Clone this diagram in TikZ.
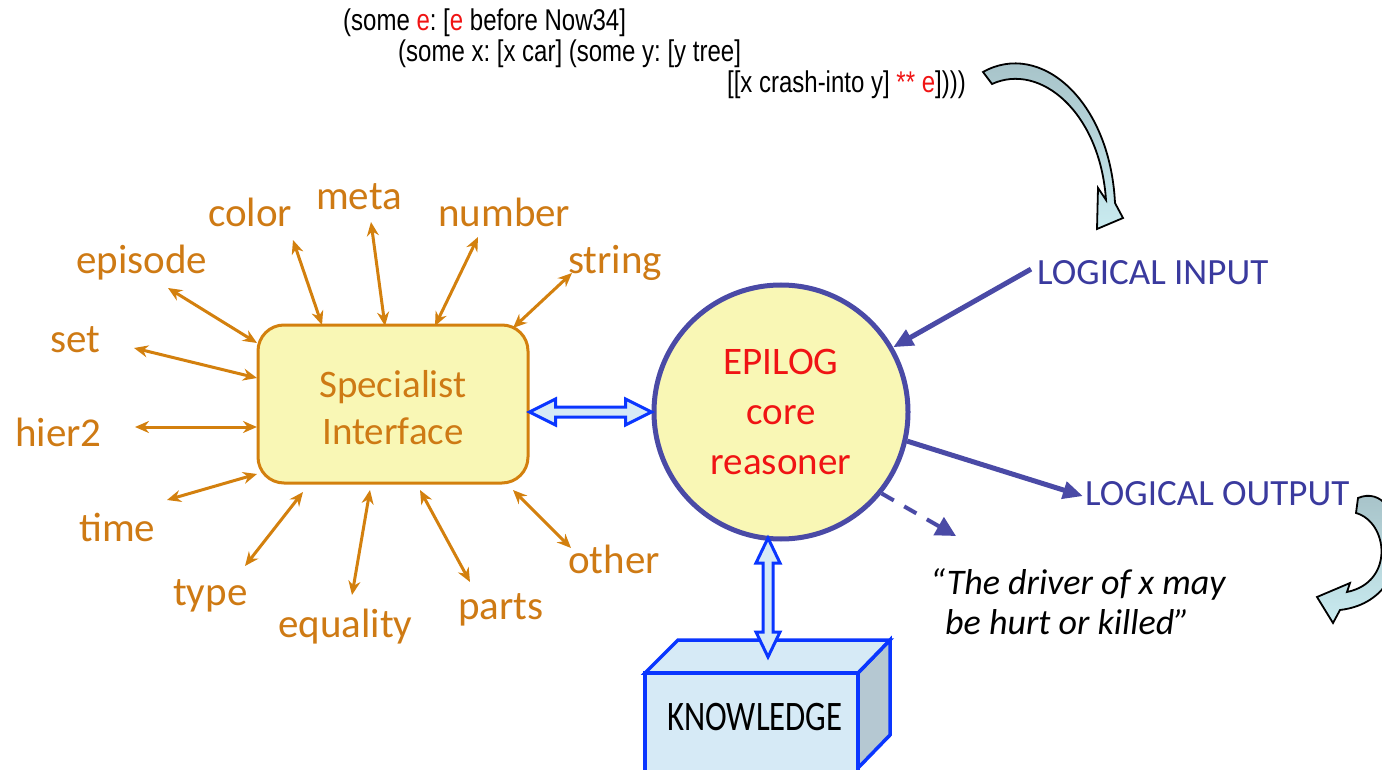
\documentclass[tikz,border=0pt]{standalone}
\usepackage{fontspec}
\setmainfont{Carlito}
\newfontfamily\arialn{Liberation Sans}[FakeStretch=0.8]
\newfontfamily\kfont{Carlito}[FakeStretch=0.78]
\usetikzlibrary{arrows.meta,calc,shapes.geometric}
\definecolor{org}{HTML}{D3800E}
\definecolor{orgtext}{HTML}{CE7A14}
\definecolor{ylw}{HTML}{F9F7B5}
\definecolor{cblue}{HTML}{4A4AA6}
\definecolor{ltxt}{HTML}{3A3A9E}
\definecolor{bblue}{HTML}{0A36FF}
\definecolor{lblue}{HTML}{D6EAF6}
\definecolor{sideg}{HTML}{B5C8D2}
\definecolor{eRed}{HTML}{F01414}
\definecolor{cvA}{HTML}{A3BEC4}
\definecolor{cvB}{HTML}{C9EBF0}
\frenchspacing
\begin{document}
\begin{tikzpicture}[x=1pt,y=-1pt,
  lbl/.style={text=orgtext, font=\fontsize{41}{48}\selectfont, inner sep=0, anchor=base west},
  oarr/.style={draw=org, line width=3pt, {Stealth[length=14pt,width=12pt]}-{Stealth[length=14pt,width=12pt]}},
  barr/.style={draw=cblue, line width=5pt, -{Triangle[length=20pt,width=17pt]}},
  hollow/.style={draw=bblue, fill=lblue, line width=3pt, line join=miter},
  ltext/.style={text=ltxt, font=\fontsize{37}{42}\selectfont, inner sep=0, anchor=base west},
  ftext/.style={font=\arialn\fontsize{30}{31}\selectfont, inner sep=0, anchor=base west},
  curvy/.style={draw=black, line width=1.8pt, top color=cvA, bottom color=cvB}
]
\useasboundingbox (0,0) rectangle (1382,770);
\clip (0,0) rectangle (1382,770);

% formula
\node[ftext] (f1) at (343,31) {(some \textcolor{eRed}{e}: [\textcolor{eRed}{e} before Now34]};
\node[ftext] (f2) at (398,62) {(some x: [x car] (some y: [y tree]};
\node[ftext, anchor=base east] (f3) at (966,93) {[[x crash-into y] \textcolor{eRed}{**} \textcolor{eRed}{e}])))};

% specialist box
\node[draw=org, fill=ylw, line width=3pt, rounded corners=26pt, minimum width=270pt, minimum height=158pt] (box) at (393,404) {};
\node[text=orgtext, align=center, inner sep=0, font=\fontsize{39}{47}\selectfont] (boxtext) at (393,408) {Specialist\\Interface};

% core reasoner
\node[circle, draw=cblue, fill=ylw, line width=5pt, minimum size=254pt, inner sep=0,
      text=eRed, align=center, font=\fontsize{39}{50}\selectfont] (core) at (781,412) {EPILOG\\core\\reasoner};

% labels
\node[lbl] (color) at (208,227) {color};
\node[lbl] (meta) at (316,210) {meta};
\node[lbl] (number) at (438,227) {number};
\node[lbl] (string) at (568,273) {string};
\node[lbl] (episode) at (76,273) {episode};
\node[lbl] (set) at (50,352) {set};
\node[lbl] (hier2) at (15,446) {hier2};
\node[lbl] (time) at (79,541) {time};
\node[lbl] (type) at (173,605) {type};
\node[lbl] (equality) at (278,637) {equality};
\node[lbl] (parts) at (458,619) {parts};
\node[lbl] (other) at (568,573) {other};

% label arrow ends
\coordinate (color-e) at (293,240);   \coordinate (color-b) at (322,325);
\coordinate (meta-e) at (371,222);    \coordinate (meta-b) at (385,326);
\coordinate (number-e) at (478,237);  \coordinate (number-b) at (435,326);
\coordinate (string-e) at (572,273);  \coordinate (string-b) at (513,328);
\coordinate (episode-e) at (168,288); \coordinate (episode-b) at (257,343);
\coordinate (set-e) at (134,348);     \coordinate (set-b) at (257,378);
\coordinate (hier2-e) at (135,427);   \coordinate (hier2-b) at (257,427);
\coordinate (time-e) at (167,500);    \coordinate (time-b) at (257,474);
\coordinate (type-e) at (245,566);    \coordinate (type-b) at (303,492);
\coordinate (equality-e) at (352,595);\coordinate (equality-b) at (370,490);
\coordinate (parts-e) at (470,582);   \coordinate (parts-b) at (420,490);
\coordinate (other-e) at (571,548);   \coordinate (other-b) at (513,490);
\foreach \n in {color,meta,number,string,episode,set,hier2,time,type,equality,parts,other}
  \draw[oarr] (\n-e) -- (\n-b);

% hollow double arrow box <-> core
\coordinate (ha) at (box.east |- core.west);
\coordinate (hb) at (core.west);
\draw[hollow] (ha) -- ($(ha)+(26,-13)$) -- ($(ha)+(26,-5)$) -- ($(hb)+(-26,-5)$) -- ($(hb)+(-26,-13)$)
  -- (hb) -- ($(hb)+(-26,13)$) -- ($(hb)+(-26,5)$) -- ($(ha)+(26,5)$) -- ($(ha)+(26,13)$) -- cycle;

% knowledge cuboid
\fill[lblue] (645,673) rectangle (858,800);
\draw[draw=bblue, fill=sideg, line width=3.5pt, line join=miter] (858,673) -- (890,640) -- (890,735) -- (858,768) -- cycle;
\draw[draw=bblue, fill=lblue, line width=3.5pt, line join=miter] (645,673) -- (678,640) -- (890,640) -- (858,673) -- cycle;
\draw[draw=bblue, line width=3.5pt, line join=miter] (645,800) -- (645,673) -- (858,673) -- (858,800);
\node[inner sep=0, anchor=base, font=\kfont\fontsize{42}{48}\selectfont] (kn) at (755,730) {KNOWLEDGE};

% vertical hollow arrow core <-> knowledge
\coordinate (va) at (768,538);
\coordinate (vb) at (768,657);
\draw[hollow] (va) -- ($(va)+(-12,25)$) -- ($(va)+(-5,25)$) -- ($(vb)+(-5,-25)$) -- ($(vb)+(-12,-25)$)
  -- (vb) -- ($(vb)+(12,-25)$) -- ($(vb)+(5,-25)$) -- ($(va)+(5,25)$) -- ($(va)+(12,25)$) -- cycle;

% logical input / output
\node[ltext] (lin) at (1037,284) {LOGICAL INPUT};
\node[ltext] (lout) at (1085,505) {LOGICAL OUTPUT};
\draw[barr] ([xshift=-6pt,yshift=3pt]lin.west) -- (core.30);
\draw[barr] (core.-13) -- ([xshift=-2pt,yshift=-3pt]lout.west);

% dashed arrow
\coordinate (dend) at (956,536);
\draw[draw=cblue, line width=4pt, dash pattern=on 14pt off 12pt, -{Triangle[length=20pt,width=20pt]}] (core.-39) -- (dend);

% quote
\node[inner sep=0, anchor=base west, font=\itshape\fontsize{36}{40}\selectfont] (q1) at (930,594) {``The driver of x may};
\node[inner sep=0, anchor=base west, font=\itshape\fontsize{36}{40}\selectfont] (q2) at (945,634) {be hurt or killed''};

% curved block arrows
\path[curvy] (983,72) .. controls (1040,40) and (1110,100) .. (1115,203) -- (1123,218) -- (1097,229) -- (1098,188) -- (1106,200)
  .. controls (1100,112) and (1040,62) .. (992,84) -- cycle;
\path[curvy] (1358,498) .. controls (1405,478) and (1425,600) .. (1340,610) -- (1333,623) -- (1317,597) -- (1350,583) -- (1347,592)
  .. controls (1395,582) and (1388,522) .. (1356,513) -- cycle;
\end{tikzpicture}
\end{document}
